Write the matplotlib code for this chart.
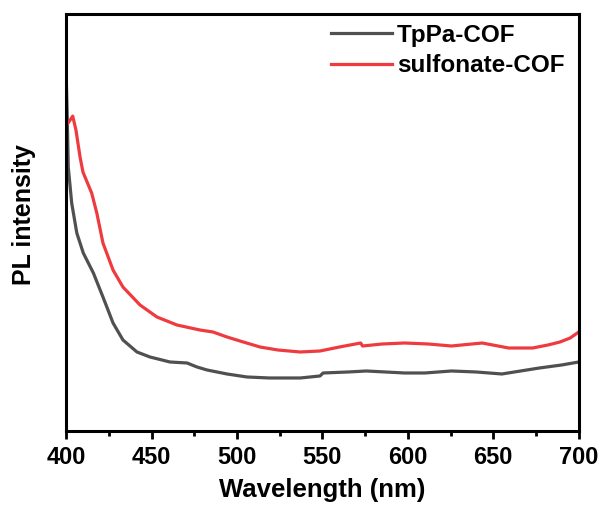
import numpy as np
import matplotlib.pyplot as plt
from matplotlib.ticker import MultipleLocator

plt.rcParams['font.family'] = ['Liberation Sans', 'DejaVu Sans']
plt.rcParams['font.weight'] = 'bold'

# PL spectra (arbitrary units)
wl_tppa = [400.0, 400.6, 401.3, 403.3, 406.3, 410.1, 416.0, 421.6, 427.5, 433.3,
           441.5, 449.1, 460.8, 470.8, 476.6, 482.5, 494.2, 505.8, 519, 537,
           548.6, 550.4, 565, 575.7, 598, 610, 625.5, 640, 655, 677, 690, 700]
pl_tppa = [361, 321, 264, 228, 198, 178, 158, 134, 108, 91,
           79, 74, 69, 68, 64, 61, 57, 54, 53, 53,
           55, 58, 59, 60, 58, 58, 60, 59, 57, 63, 66, 69]

wl_sulf = [400.4, 403.9, 405.8, 408.2, 409.9, 415.0, 418.0, 421.6, 427.5, 433.3,
           443.3, 453.2, 464.9, 478.4, 486.0, 494.2, 501.8, 513.5, 524, 537,
           548.6, 560, 572.4, 573.5, 585, 598, 612, 625.5, 643.5, 659, 673,
           682, 689, 695, 700]
pl_sulf = [306, 315, 301, 274, 259, 238, 218, 188, 161, 144,
           126, 114, 106, 101, 99, 94, 90, 84, 81, 79,
           80, 84, 88, 85, 87, 88, 87, 85, 88, 83, 83,
           86, 89, 93, 99]

fig = plt.figure(figsize=(6.06, 5.07), dpi=100)
ax = fig.add_axes([0.109, 0.150, 0.846, 0.822])

ax.plot(wl_tppa, pl_tppa, color='#505050', lw=2.3, label='TpPa-COF',
        solid_joinstyle='round')
ax.plot(wl_sulf, pl_sulf, color='#ef3b3f', lw=2.3, label='sulfonate-COF',
        solid_joinstyle='round')

ax.set_xlim(400, 700)
ax.set_ylim(0, 417)
ax.xaxis.set_major_locator(MultipleLocator(50))
ax.xaxis.set_minor_locator(MultipleLocator(25))
ax.tick_params(axis='x', which='major', direction='out', length=6, width=2,
               labelsize=17, pad=5)
ax.tick_params(axis='x', which='minor', direction='out', length=3.5, width=2)
ax.set_yticks([])
for s in ax.spines.values():
    s.set_linewidth(2.2)

ax.set_xlabel('Wavelength (nm)', fontsize=18.5, fontweight='bold', labelpad=6)
ax.set_ylabel('PL intensity', fontsize=18, fontweight='bold')
ax.yaxis.set_label_coords(-0.058, 0.52)

ax.legend(loc='upper right', frameon=False, fontsize=17.5, handlelength=2.5,
          handletextpad=0.2, labelspacing=0.3, borderpad=0, borderaxespad=0,
          bbox_to_anchor=(0.972, 0.977))

fig.savefig('out.png', dpi=100)
